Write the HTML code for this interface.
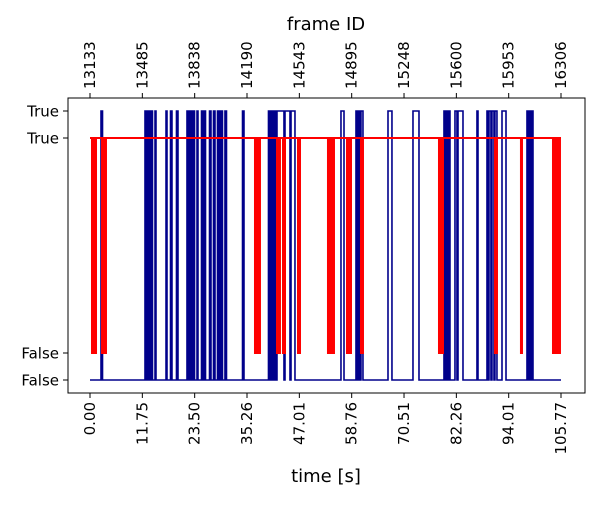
<!DOCTYPE html>
<html><head><meta charset="utf-8"><style>
body{margin:0;background:#fff;font-family:"Liberation Sans","DejaVu Sans",sans-serif}
svg text{font-family:"DejaVu Sans","Liberation Sans",sans-serif;fill:#000}
</style></head><body>
<svg id="chart" width="600" height="500" viewBox="0 0 600 500" xmlns="http://www.w3.org/2000/svg">
<rect x="0" y="0" width="600" height="500" fill="#fff"/>
<g id="marks"></g>
<rect x="68" y="98" width="517" height="295" fill="none" stroke="#000" stroke-width="1"/>
<g id="axes"></g>
<text x="326" y="482" font-size="18" text-anchor="middle">time [s]</text>
<text x="326" y="30" font-size="18" text-anchor="middle">frame ID</text>
</svg>
<script>
const xTickLabels = ["0.00","11.75","23.50","35.26","47.01","58.76","70.51","82.26","94.01","105.77"];
const xTickValues = [0,11.753,23.506,35.259,47.012,58.765,70.518,82.271,94.024,105.77];
const frameTickLabels = ["13133","13485","13838","14190","14543","14895","15248","15600","15953","16306"];
const tEnd = 105.77;
const redFalse = [[0.45,1.35],[2.69,3.59],[37.05,38.17],[41.99,42.66],[43.34,43.79],[46.71,47.16],[53.44,54.79],[57.71,58.61],[60.85,61.30],[78.37,79.27],[90.94,91.39],[96.78,97.01],[103.97,105.54]];
const blueTrue = [[2.47,2.81],[12.35,12.58],[12.80,13.02],[13.25,13.47],[13.70,14.03],[14.60,14.82],[17.07,17.29],[18.08,18.41],[19.42,19.76],[21.78,22.01],[22.23,22.46],[22.57,22.79],[22.90,23.13],[23.24,23.47],[24.03,24.25],[25.04,25.37],[25.60,25.94],[26.84,27.17],[27.73,28.07],[28.63,28.97],[29.08,29.42],[29.53,29.75],[30.31,30.65],[34.25,34.58],[40.08,40.42],[40.76,41.09],[41.43,41.77],[41.99,43.56],[43.79,44.91],[45.14,46.03],[56.36,57.04],[59.73,60.07],[60.29,60.63],[60.85,61.30],[66.92,67.81],[72.53,73.88],[79.49,79.83],[80.05,80.39],[80.50,80.84],[81.96,82.41],[82.64,83.76],[86.90,87.13],[89.15,89.37],[89.60,90.04],[90.27,90.72],[90.94,91.39],[92.52,93.42],[98.13,98.47],[98.69,99.03],[99.14,99.48]];
const NS="http://www.w3.org/2000/svg";
function X(t){return 90+t*(471/105.77);}
const blueY={T:111,F:380}, redY={T:138,F:353};
const marks=document.getElementById('marks'), axes=document.getElementById('axes');
function mk(tag,attrs,parent){const e=document.createElementNS(NS,tag);for(const k in attrs)e.setAttribute(k,attrs[k]);parent.appendChild(e);return e;}
// blue series
let d=`M${X(0)},${blueY.F}`;
blueTrue.forEach(p=>{d+=` H${X(p[0])} V${blueY.T} H${X(p[1])} V${blueY.F}`;});
d+=` H${X(tEnd)}`;
const bl=mk('path',{d:d,fill:'none',stroke:'#00008b','stroke-width':1.6},marks);


// red series
redFalse.forEach((p,i)=>{
 const r=mk('rect',{x:X(p[0]),y:redY.T,width:Math.max(X(p[1])-X(p[0]),1),height:redY.F-redY.T,fill:'#ff0000',stroke:'#ff0000','stroke-width':2},marks);
 
 
});
const rl=mk('path',{d:`M${X(0)},${redY.T} H${X(tEnd)}`,fill:'none',stroke:'#ff0000','stroke-width':2},marks);


// x ticks
xTickValues.forEach((v,i)=>{
 const x=X(v);
 mk('line',{x1:x,y1:393,x2:x,y2:398,stroke:'#000'},axes);
 mk('line',{x1:x,y1:98,x2:x,y2:93,stroke:'#000'},axes);
 const t=mk('text',{x:0,y:0,'font-size':15,'text-anchor':'end',transform:`translate(${x+5},402) rotate(-90)`},axes);
 t.textContent=xTickLabels[i];
 
 
 const f=mk('text',{x:0,y:0,'font-size':15,'text-anchor':'start',transform:`translate(${x+5},89) rotate(-90)`},axes);
 f.textContent=frameTickLabels[i];
 
 
});
// y ticks
[[blueY.T,'True'],[redY.T,'True'],[redY.F,'False'],[blueY.F,'False']].forEach(p=>{
 mk('line',{x1:63,y1:p[0],x2:68,y2:p[0],stroke:'#000'},axes);
 const t=mk('text',{x:59,y:p[0]+5.5,'font-size':15,'text-anchor':'end'},axes);
 t.textContent=p[1];
 
 
});
</script>
</body></html>
